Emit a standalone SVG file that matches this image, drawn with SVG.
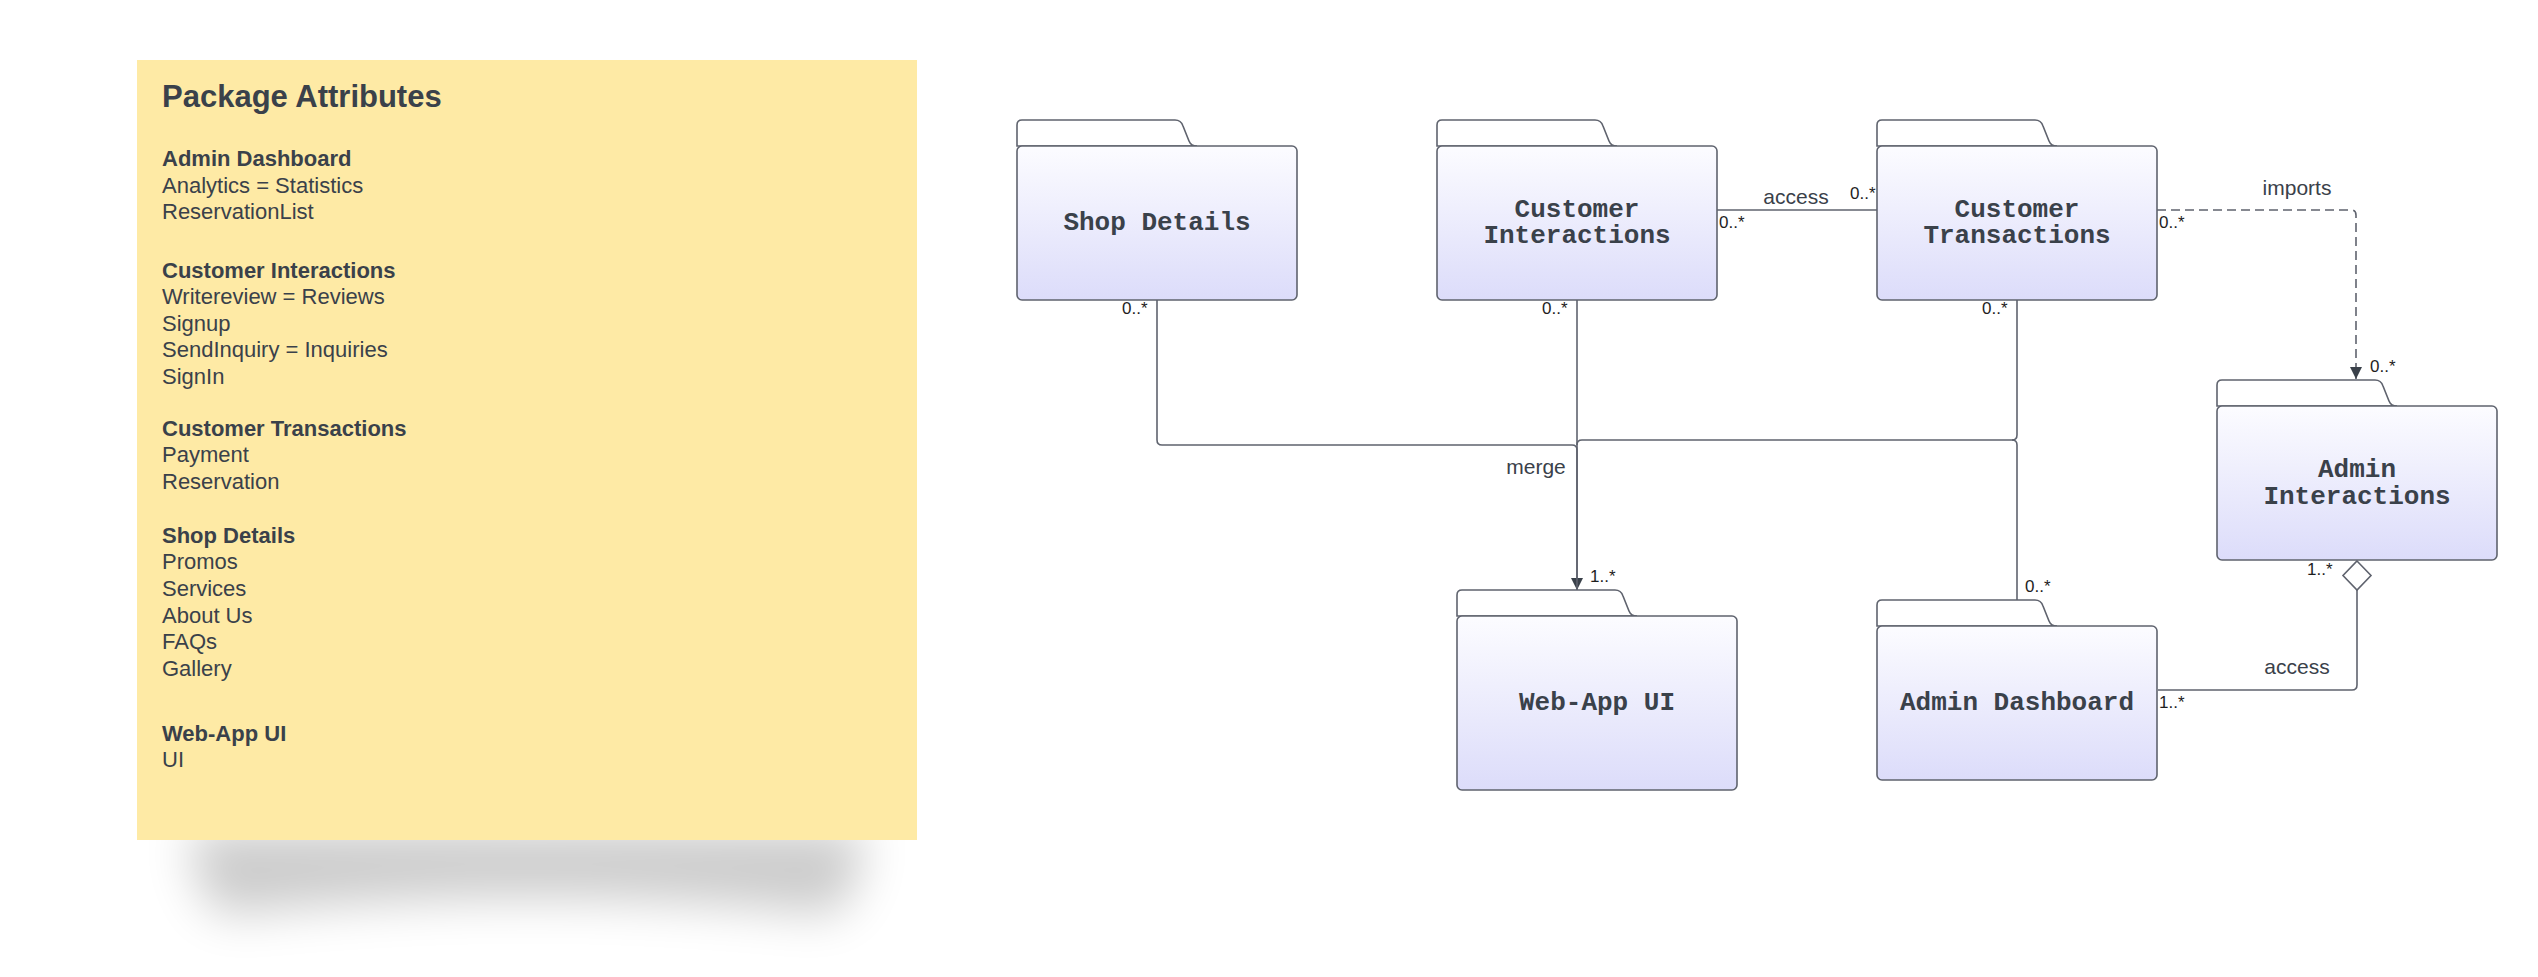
<svg xmlns="http://www.w3.org/2000/svg" width="2538" height="977" viewBox="0 0 2538 977">
<style>
.note-t{font-family:"Liberation Sans",Arial,sans-serif;fill:#3a414a}
.h{font-weight:bold;font-size:22px}
.b{font-size:22px}
.tab{fill:#ffffff;stroke:#5f636e;stroke-width:1.6}
.body{fill:url(#pg);stroke:#5f636e;stroke-width:1.6}
.nt{font-family:"Liberation Mono","Courier New",monospace;font-weight:bold;font-size:26px;fill:#3a414a;text-anchor:middle}
.ln{fill:none;stroke:#5f636e;stroke-width:1.6}
.dash{stroke-dasharray:9 5}
.lbl{font-family:"Liberation Sans",Arial,sans-serif;font-size:21px;fill:#3a414a;text-anchor:middle}
.m{font-family:"Liberation Sans",Arial,sans-serif;font-size:17px;fill:#1e1e1e}
</style>
<defs>
<linearGradient id="pg" x1="0" y1="0" x2="0" y2="1">
<stop offset="0" stop-color="#fcfcff"/>
<stop offset="1" stop-color="#dcdcfa"/>
</linearGradient>
<filter id="sh" x="-20%" y="-100%" width="140%" height="300%">
<feGaussianBlur stdDeviation="24"/>
</filter>
<marker id="arr" viewBox="0 0 12 17" refX="12" refY="8.5" markerWidth="12" markerHeight="17" markerUnits="userSpaceOnUse" orient="auto">
<path d="M0,2.5 L12,8.5 L0,14.5 Z" fill="#3a414a"/>
</marker>
<g id="pkg">
<path class="tab" d="M0,26 V5 Q0,0 5,0 H158 Q164,0 166,6 L172,21 Q174,26 180,26 Z"/>
</g>
</defs>
<rect width="2538" height="977" fill="#ffffff"/>
<g id="note">
<path d="M190,830 H864 Q860,900 830,915 Q530,880 224,915 Q194,900 190,830 Z" fill="#000" opacity="0.2" filter="url(#sh)"/>
<rect x="137" y="60" width="780" height="780" fill="#feeaa5"/>
<text class="note-t" x="162" y="107" font-size="31" font-weight="bold">Package Attributes</text>
<text class="note-t h" x="162" y="166">Admin Dashboard</text>
<text class="note-t b" x="162" y="193">Analytics = Statistics</text>
<text class="note-t b" x="162" y="219">ReservationList</text>
<text class="note-t h" x="162" y="278">Customer Interactions</text>
<text class="note-t b" x="162" y="304">Writereview = Reviews</text>
<text class="note-t b" x="162" y="331">Signup</text>
<text class="note-t b" x="162" y="357">SendInquiry = Inquiries</text>
<text class="note-t b" x="162" y="384">SignIn</text>
<text class="note-t h" x="162" y="436">Customer Transactions</text>
<text class="note-t b" x="162" y="462">Payment</text>
<text class="note-t b" x="162" y="489">Reservation</text>
<text class="note-t h" x="162" y="543">Shop Details</text>
<text class="note-t b" x="162" y="569">Promos</text>
<text class="note-t b" x="162" y="596">Services</text>
<text class="note-t b" x="162" y="623">About Us</text>
<text class="note-t b" x="162" y="649">FAQs</text>
<text class="note-t b" x="162" y="676">Gallery</text>
<text class="note-t h" x="162" y="741">Web-App UI</text>
<text class="note-t b" x="162" y="767">UI</text>
</g>
<g id="connectors">
<path class="ln" d="M1717,210 H1877"/>
<path class="ln dash" d="M2157,210 H2351 Q2356,210 2356,215 V379" marker-end="url(#arr)"/>
<path class="ln" d="M1157,300 V440 Q1157,445 1162,445 H1572 Q1577,445 1577,450 V590" marker-end="url(#arr)"/>
<path class="ln" d="M1577,300 V589"/>
<path class="ln" d="M2017,300 V435 Q2017,440 2012,440 H1582 Q1577,440 1577,445"/>
<path class="ln" d="M2017,600 V445 Q2017,440 2012,440"/>
<path class="ln" d="M2357,590 V685 Q2357,690 2352,690 H2158"/>
<polygon points="2357,561 2371,575.5 2357,590 2343,575.5" fill="#ffffff" stroke="#5f636e" stroke-width="1.6"/>
<text class="lbl" x="1796" y="204">access</text>
<text class="lbl" x="2297" y="195">imports</text>
<text class="lbl" x="1536" y="474">merge</text>
<text class="lbl" x="2297" y="674">access</text>
<text class="m" x="1850" y="199">0..*</text>
<text class="m" x="1719" y="228">0..*</text>
<text class="m" x="2159" y="228">0..*</text>
<text class="m" x="2370" y="372">0..*</text>
<text class="m" x="1122" y="314">0..*</text>
<text class="m" x="1542" y="314">0..*</text>
<text class="m" x="1982" y="314">0..*</text>
<text class="m" x="1590" y="582">1..*</text>
<text class="m" x="2025" y="592">0..*</text>
<text class="m" x="2307" y="575">1..*</text>
<text class="m" x="2159" y="708">1..*</text>
</g>
<g id="shop-details">
<use href="#pkg" x="1017" y="120"/>
<rect class="body" x="1017" y="146" width="280" height="154" rx="5"/>
<text class="nt" x="1157" y="230">Shop Details</text>
</g>
<g id="customer-interactions">
<use href="#pkg" x="1437" y="120"/>
<rect class="body" x="1437" y="146" width="280" height="154" rx="5"/>
<text class="nt" x="1577" y="217">Customer</text>
<text class="nt" x="1577" y="243">Interactions</text>
</g>
<g id="customer-transactions">
<use href="#pkg" x="1877" y="120"/>
<rect class="body" x="1877" y="146" width="280" height="154" rx="5"/>
<text class="nt" x="2017" y="217">Customer</text>
<text class="nt" x="2017" y="243">Transactions</text>
</g>
<g id="admin-interactions">
<use href="#pkg" x="2217" y="380"/>
<rect class="body" x="2217" y="406" width="280" height="154" rx="5"/>
<text class="nt" x="2357" y="477">Admin</text>
<text class="nt" x="2357" y="504">Interactions</text>
</g>
<g id="web-app-ui">
<use href="#pkg" x="1457" y="590"/>
<rect class="body" x="1457" y="616" width="280" height="174" rx="5"/>
<text class="nt" x="1597" y="710">Web-App UI</text>
</g>
<g id="admin-dashboard">
<use href="#pkg" x="1877" y="600"/>
<rect class="body" x="1877" y="626" width="280" height="154" rx="5"/>
<text class="nt" x="2017" y="710">Admin Dashboard</text>
</g>
</svg>
